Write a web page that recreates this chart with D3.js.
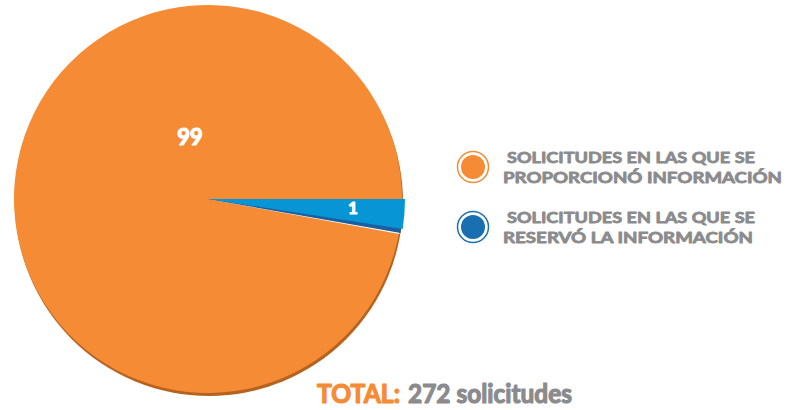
<!DOCTYPE html>
<html><head><meta charset="utf-8">
<script src="https://cdn.jsdelivr.net/npm/d3@7"></script>
<style>html,body{margin:0;padding:0;background:#fff;overflow:hidden}</style>
</head><body>
<svg id="c" width="788" height="410"></svg>
<script>
// Data
const categories = ["SOLICITUDES EN LAS QUE SE|PROPORCIONÓ INFORMACIÓN", "SOLICITUDES EN LAS QUE SE|RESERVÓ LA INFORMACIÓN"];
const percentLabels = [99, 1];           // printed labels (%)
const sliceShares = [97.56, 2.44];      // drawn slice proportions
const totalLabel = "TOTAL:";
const totalValue = "272 solicitudes";
const colors = ["#f58b34", "#0795d5"];
const ringColors = ["#f58b34", "#1a6fb0"];
const legendFill = ["#f58b34", "#1a6fb0"];

const svg = d3.select("#c");
const cx = 208, cy = 199, R = 194;
const g = svg.append("g").attr("transform", `translate(${cx},${cy})`);

const pie = d3.pie().sort(null).value(d => d.v)
  .startAngle(Math.PI / 2).endAngle(Math.PI / 2 + 2 * Math.PI);
const data = [{k: 1, v: sliceShares[1]}, {k: 0, v: sliceShares[0]}];
const arcs = pie(data);

// shadow
g.append("circle").attr("cx", 1).attr("cy", 3).attr("r", R).attr("fill", "#b5631f");

const arcMain = d3.arc().innerRadius(0).outerRadius(R);
const arcBlue = d3.arc().innerRadius(0).outerRadius(R + 3);

const orange = arcs.find(a => a.data.k === 0);
const blue = arcs.find(a => a.data.k === 1);
g.append("path").attr("d", arcMain(orange)).attr("fill", colors[0]);

// blue slice edge (3d dark edge + white separator)
const ea = blue.endAngle;
const deg = Math.PI / 180;
g.append("path").attr("d", d3.arc().innerRadius(0).outerRadius(R + 0.5)({startAngle: blue.startAngle, endAngle: ea + deg * 1.6}))
  .attr("fill", "#ffffff");
g.append("path").attr("d", d3.arc().innerRadius(0).outerRadius(R + 1.5)({startAngle: blue.startAngle, endAngle: ea + deg * 1.25}))
  .attr("fill", "#1b5f9e");
g.append("path").attr("d", arcBlue(blue)).attr("fill", colors[1]);

const bold = sel => sel.attr("font-family", "Lato, sans-serif").attr("font-weight", 700)
  .attr("stroke-linejoin", "round").attr("paint-order", "stroke");

// slice labels
g.append("text").attr("x", 190 - cx).attr("y", 145 - cy).attr("text-anchor", "middle")
  .call(bold).attr("font-size", 22).attr("stroke", "#fff").attr("stroke-width", 1.2)
  .attr("fill", "#fff").text(percentLabels[0]);
g.append("text").attr("x", 353 - cx).attr("y", 214 - cy).attr("text-anchor", "middle")
  .call(bold).attr("font-size", 17).attr("stroke", "#fff").attr("stroke-width", 1)
  .attr("fill", "#fff").text(percentLabels[1]);

// legend
const legY = [167, 227];
const lineX = [[507, 503], [507, 503]];
const lineW = [[248, 279], [248, 250]];
categories.forEach((c, i) => {
  const lg = svg.append("g");
  lg.append("circle").attr("cx", 473).attr("cy", legY[i]).attr("r", 15.5)
    .attr("fill", "#fff").attr("stroke", ringColors[i]).attr("stroke-width", 1.5);
  lg.append("circle").attr("cx", 473).attr("cy", legY[i]).attr("r", 12).attr("fill", legendFill[i]);
  c.split("|").forEach((line, j) => {
    lg.append("text").attr("x", lineX[i][j]).attr("y", legY[i] - 4 + j * 20)
      .call(bold).attr("font-size", 15.5)
      .attr("fill", "#8b8b8d").attr("stroke", "#8b8b8d").attr("stroke-width", 0.8)
      .attr("textLength", lineW[i][j]).attr("lengthAdjust", "spacingAndGlyphs")
      .text(line);
  });
});

// total
svg.append("text").attr("x", 317).attr("y", 403)
  .call(bold).attr("font-size", 26).attr("stroke", "#f58b34").attr("stroke-width", 1.2)
  .attr("fill", "#f58b34").attr("textLength", 83).attr("lengthAdjust", "spacingAndGlyphs").text(totalLabel);
svg.append("text").attr("x", 408).attr("y", 403)
  .call(bold).attr("font-size", 26).attr("stroke", "#8b8b8d").attr("stroke-width", 1.2)
  .attr("fill", "#8b8b8d").attr("textLength", 164).attr("lengthAdjust", "spacingAndGlyphs").text(totalValue);
</script>
</body></html>
